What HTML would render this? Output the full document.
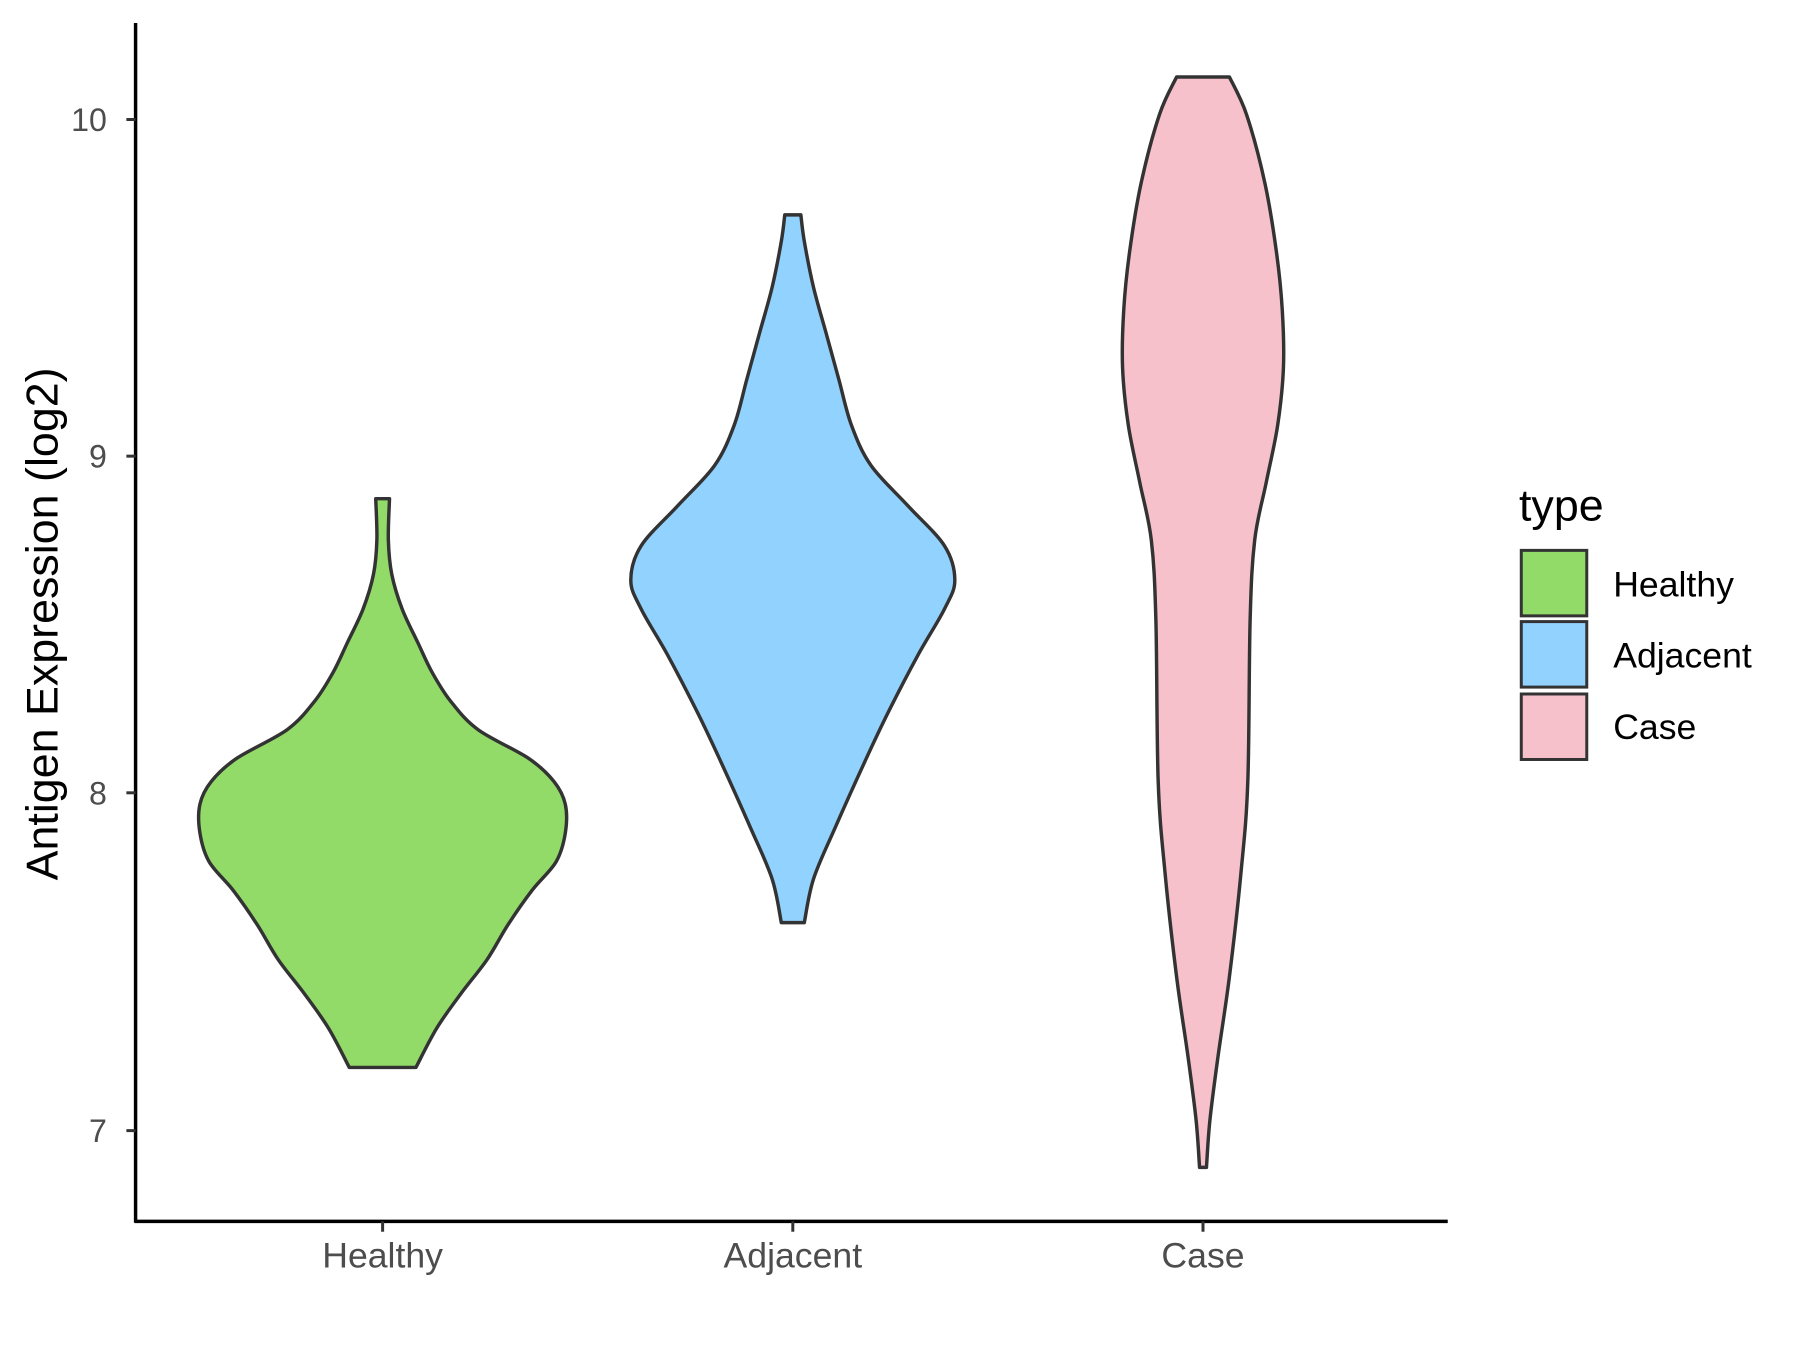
<!DOCTYPE html>
<html><head><style>html,body{margin:0;padding:0;background:#fff}</style></head>
<body>
<svg id="s" width="1800" height="1350" xmlns="http://www.w3.org/2000/svg" style="display:block">
<rect width="1800" height="1350" fill="#fff"/>
<g transform="scale(1.149)" font-family="Liberation Sans, Arial, sans-serif">
<g id="v"></g>
<line x1="118" y1="20" x2="118" y2="1064" stroke="#000" stroke-width="3"/>
<line x1="117" y1="1063" x2="1260" y2="1063" stroke="#000" stroke-width="3"/>
<g stroke="#333" stroke-width="2.6">
<line x1="110" y1="104" x2="118" y2="104"/><line x1="110" y1="397" x2="118" y2="397"/>
<line x1="110" y1="690" x2="118" y2="690"/><line x1="110" y1="984" x2="118" y2="984"/>
<line x1="333" y1="1063" x2="333" y2="1072"/><line x1="690" y1="1063" x2="690" y2="1072"/>
<line x1="1047" y1="1063" x2="1047" y2="1072"/>
</g>
<g fill="#4d4d4d" font-size="28" text-anchor="end">
<text x="93" y="114">10</text><text x="93" y="407">9</text><text x="93" y="700">8</text><text x="93" y="994">7</text>
</g>
<g fill="#4d4d4d" font-size="31" text-anchor="middle">
<text x="333" y="1103">Healthy</text><text x="690" y="1103">Adjacent</text><text x="1047" y="1103">Case</text>
</g>
<text transform="translate(50,543) rotate(-90)" text-anchor="middle" font-size="39" fill="#000">Antigen Expression (log2)</text>
<text x="1322" y="453" font-size="39">type</text>
<g stroke="#333" stroke-width="2.6">
<rect x="1324" y="479" width="57" height="57" fill="#93DB69"/>
<rect x="1324" y="541" width="57" height="57" fill="#92D2FE"/>
<rect x="1324" y="604" width="57" height="57" fill="#F7C1CC"/>
</g>
<g font-size="31" fill="#000">
<text x="1404" y="519">Healthy</text><text x="1404" y="581">Adjacent</text><text x="1404" y="643">Case</text>
</g>
</g>
</svg>
<script>
function cr(pts){let d='M'+pts[0][0]+','+pts[0][1];for(let i=0;i<pts.length-1;i++){const p0=pts[Math.max(0,i-1)],p1=pts[i],p2=pts[i+1],p3=pts[Math.min(pts.length-1,i+2)];const c1=[p1[0]+(p2[0]-p0[0])/6,p1[1]+(p2[1]-p0[1])/6],c2=[p2[0]-(p3[0]-p1[0])/6,p2[1]-(p3[1]-p1[1])/6];d+=' C'+c1+' '+c2+' '+p2;}return d;}
function violin(cx,right,fill){
 const r=right.map(p=>[p[1],p[0]]);
 const l=right.slice().reverse().map(p=>[2*cx-p[1],p[0]]);
 let d=cr(r)+' L'+l[0]+' '+cr(l).slice(1)+' Z';
 return '<path d="'+d+'" fill="'+fill+'" stroke="#333" stroke-width="3" stroke-linejoin="round"/>';
}
const H=[[434,339],[470,338],[500,341],[530,350],[560,364],[585,376],[610,392],[635,416],[660,460],[680,482],[700,492],[725,492],[750,484],[775,463],[805,442],[835,424],[865,401],[895,380],[929,362]];
const A=[[187,697],[210,700],[250,708],[290,719],[330,730],[370,741],[405,758],[440,790],[475,822],[505,831],[530,822],[570,799],[620,773],[660,754],[720,727],[765,708],[803,700]];
const C=[[67,1070],[100,1085],[160,1101],[220,1111],[270,1116],[320,1117],[370,1112],[420,1102],[470,1092],[540,1088],[680,1086],[760,1080],[850,1070],[920,1060],[975,1053],[1016,1050]];
document.getElementById('v').innerHTML=violin(333,H,'#93DB69')+violin(690,A,'#92D2FE')+violin(1047,C,'#F7C1CC');
</script>
</body></html>
